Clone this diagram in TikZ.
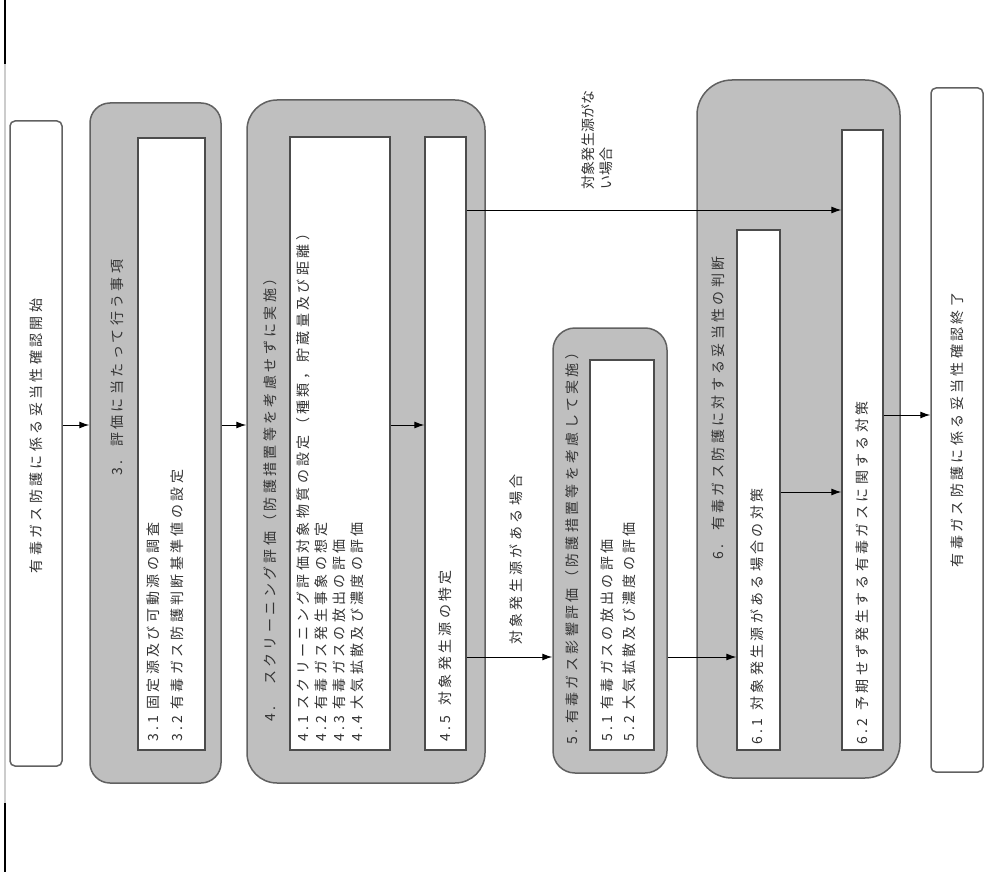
\documentclass[tikz,border=0pt]{standalone}
\usepackage{fontspec}
\newfontfamily\jp[LetterSpace=24]{Noto Sans CJK JP}
\newfontfamily\jpn[LetterSpace=2]{Noto Sans CJK JP}
\usetikzlibrary{arrows.meta}
\tikzset{
  outerbox/.style={draw=black!62, line width=1.5pt, fill=black!25, inner sep=0pt},
  innerbox/.style={draw=black!70, line width=1.3pt, fill=white, inner sep=0pt},
  endbox/.style={draw=black!62, line width=1.5pt, fill=white, rounded corners=5pt, inner sep=0pt},
  txt/.style={rotate=90, anchor=west, inner sep=0pt, font=\jp\fontsize{14}{16}\selectfont, text=black!80},
  narrowtxt/.style={txt, font=\jpn\fontsize{14}{16}\selectfont},
  ctxt/.style={txt, anchor=center},
  arr/.style={line width=1pt, black, -{Latex[length=10pt,width=7pt]}}
}
\begin{document}
\begin{tikzpicture}[x=1pt,y=-1pt]
\useasboundingbox (0,0) rectangle (985,872);
% left edge line
\draw[black, line width=1.2pt] (5,0) -- (5,64);
\draw[black!20, line width=2pt] (5,64) -- (5,803);
\draw[black, line width=1.2pt] (5,803) -- (5,872);

% boxes
\node[endbox, minimum width=52, minimum height=645] (start) at (36,443.5) {};
\node[outerbox, rounded corners=20pt, minimum width=131, minimum height=680] (g3) at (155.5,443) {};
\node[innerbox, minimum width=67, minimum height=612] (i3) at (171.5,444) {};
\node[outerbox, rounded corners=30pt, minimum width=238, minimum height=683] (g4) at (366,441.5) {};
\node[innerbox, minimum width=100, minimum height=613] (i4a) at (340,443.5) {};
\node[innerbox, minimum width=41, minimum height=613] (i4b) at (445.5,443.5) {};
\node[outerbox, rounded corners=22pt, minimum width=114, minimum height=445] (g5) at (610,550.5) {};
\node[innerbox, minimum width=64, minimum height=390] (i5) at (622,555) {};
\node[outerbox, rounded corners=35pt, minimum width=203, minimum height=698] (g6) at (798.5,429) {};
\node[innerbox, minimum width=43, minimum height=520] (i61) at (758.5,490) {};
\node[innerbox, minimum width=41, minimum height=620] (i62) at (862.5,440) {};
\node[endbox, minimum width=52, minimum height=684] (end) at (957,430) {};

% texts
\node[ctxt] (tstart) at (36,436) {有毒ガス防護に係る妥当性確認開始};
\node[txt] (t3) at (117,476) {3.\hspace{14pt}評価に当たって行う事項};
\node[txt] (t31) at (153,742) {3.1\hspace{6pt}固定源及び可動源の調査};
\node[txt] (t32) at (177,742) {3.2\hspace{6pt}有毒ガス防護判断基準値の設定};
\node[txt] (t4) at (270,722) {4.\hspace{22pt}スクリーニング評価（防護措置等を考慮せずに実施）};
\node[txt] (t41) at (303,742) {4.1\hspace{6pt}スクリーニング評価対象物質の設定（種類，貯蔵量及び距離）};
\node[txt] (t42) at (321,742) {4.2\hspace{6pt}有毒ガス発生事象の想定};
\node[txt] (t43) at (339,742) {4.3\hspace{6pt}有毒ガスの放出の評価};
\node[txt] (t44) at (357,742) {4.4\hspace{6pt}大気拡散及び濃度の評価};
\node[txt] (t45) at (445,742) {4.5\hspace{10pt}対象発生源の特定};
\node[narrowtxt] (lno1) at (588,190) {対象発生源がな};
\node[narrowtxt] (lno2) at (606,190) {い場合};
\node[txt] (lyes) at (516,645) {対象発生源がある場合};
\node[txt] (t5) at (572,745) {5.\hspace{6pt}有毒ガス影響評価（防護措置等を考慮して実施）};
\node[txt] (t51) at (607,742) {5.1\hspace{6pt}有毒ガスの放出の評価};
\node[txt] (t52) at (629,742) {5.2\hspace{6pt}大気拡散及び濃度の評価};
\node[txt] (t6) at (718,560) {6.\hspace{14pt}有毒ガス防護に対する妥当性の判断};
\node[txt] (t61) at (757,745) {6.1\hspace{8pt}対象発生源がある場合の対策};
\node[txt] (t62) at (862,745) {6.2\hspace{8pt}予期せず発生する有毒ガスに関する対策};
\node[ctxt] (tend) at (957,430) {有毒ガス防護に係る妥当性確認終了};

% arrow rows
\coordinate (r425) at (0,425);
\coordinate (r210) at (0,210);
\coordinate (r657) at (0,657);
\coordinate (r492) at (0,492);
\coordinate (r415) at (0,415);

\draw[arr] (start.east |- r425) -- (g3.west |- r425);
\draw[arr] (g3.east |- r425) -- (g4.west |- r425);
\draw[arr] (i4a.east |- r425) -- (i4b.west |- r425);
\draw[arr] (i4b.east |- r210) -- (i62.west |- r210);
\draw[arr] (i4b.east |- r657) -- (g5.west |- r657);
\draw[arr] (g5.east |- r657) -- (i61.west |- r657);
\draw[arr] (i61.east |- r492) -- (i62.west |- r492);
\draw[arr] (i62.east |- r415) -- (end.west |- r415);
\end{tikzpicture}
\end{document}
